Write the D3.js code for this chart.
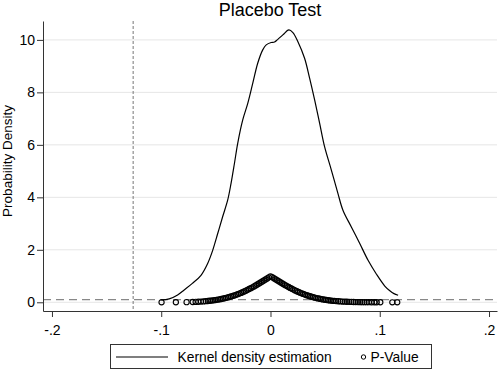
<!DOCTYPE html>
<html>
<head>
<meta charset="utf-8">
<script src="https://cdn.jsdelivr.net/npm/d3@7"></script>
<style>
  body { margin: 0; background: white; }
  text { font-family: "Liberation Sans", Arial, sans-serif; }
</style>
</head>
<body>
<div id="container"></div>
<script>
// kernel density of the placebo estimates
let kdeX = [-0.1003, -0.0927, -0.0850, -0.0790, -0.0715, -0.0636, -0.0575, -0.0529, -0.0483, -0.0438,
  -0.0392, -0.0361, -0.0330, -0.0300, -0.0254, -0.0208, -0.0162, -0.0117, -0.0071, -0.0039,
  0.0006, 0.0037, 0.0067, 0.0113, 0.0168, 0.0205, 0.0250, 0.0312, 0.0358, 0.0404,
  0.0450, 0.0495, 0.0557, 0.0617, 0.0663, 0.0740, 0.0817, 0.0893, 0.0970, 0.1046,
  0.1092, 0.1130, 0.1168];
let kdeY = [0.09, 0.13, 0.28, 0.47, 0.72, 1.03, 1.48, 1.98, 2.62, 3.26,
  3.89, 4.53, 5.29, 6.06, 6.95, 7.58, 8.35, 9.11, 9.62, 9.81,
  9.90, 9.92, 10.02, 10.19, 10.38, 10.28, 9.94, 9.30, 8.54, 7.71,
  6.82, 5.93, 5.04, 4.15, 3.51, 2.87, 2.24, 1.60, 1.07, 0.62,
  0.44, 0.33, 0.27];

// placebo estimates and their p-values
let pvalX = [-0.0997, -0.0866, -0.0768, -0.0712, -0.0685, -0.0660, -0.0636, -0.0613, -0.0592, -0.0573, -0.0556,
  -0.0540, -0.0525, -0.0510, -0.0495, -0.0480, -0.0465, -0.0450, -0.0435, -0.0420, -0.0405,
  -0.0390, -0.0375, -0.0360, -0.0345, -0.0330, -0.0315, -0.0300, -0.0285, -0.0270, -0.0255,
  -0.0240, -0.0225, -0.0210, -0.0195, -0.0180, -0.0165, -0.0150, -0.0135, -0.0120, -0.0105,
  -0.0090, -0.0075, -0.0060, -0.0045, -0.0030, -0.0015, 0.0000,
  0.0015, 0.0030, 0.0045, 0.0060, 0.0075, 0.0090, 0.0105, 0.0120, 0.0135, 0.0150,
  0.0165, 0.0180, 0.0195, 0.0210, 0.0225, 0.0240, 0.0255, 0.0270, 0.0285, 0.0300,
  0.0315, 0.0330, 0.0345, 0.0360, 0.0375, 0.0390, 0.0405, 0.0420, 0.0435, 0.0450,
  0.0465, 0.0480, 0.0495, 0.0510, 0.0525, 0.0540, 0.0555, 0.0570, 0.0585, 0.0600,
  0.0620, 0.0640, 0.0660, 0.0680, 0.0700, 0.0720, 0.0740, 0.0760, 0.0780, 0.0800,
  0.0820, 0.0840, 0.0860, 0.0880, 0.0900, 0.0925, 0.0950, 0.0972, 0.1005, 0.1115, 0.1160];
let pvalP = [0.000, 0.002, 0.006, 0.011, 0.015, 0.020, 0.026, 0.033, 0.041, 0.050, 0.058,
  0.066, 0.074, 0.082, 0.092, 0.102, 0.114, 0.126, 0.140, 0.154, 0.170,
  0.186, 0.204, 0.222, 0.242, 0.262, 0.284, 0.308, 0.332, 0.358, 0.386,
  0.414, 0.444, 0.474, 0.506, 0.538, 0.572, 0.606, 0.642, 0.678, 0.716,
  0.754, 0.792, 0.830, 0.870, 0.910, 0.950, 0.990,
  0.960, 0.920, 0.881, 0.841, 0.803, 0.764, 0.726, 0.689, 0.653, 0.617,
  0.582, 0.549, 0.516, 0.484, 0.453, 0.424, 0.395, 0.368, 0.342, 0.317,
  0.294, 0.271, 0.250, 0.230, 0.211, 0.194, 0.177, 0.162, 0.147, 0.134,
  0.121, 0.110, 0.099, 0.089, 0.080, 0.072, 0.064, 0.057, 0.051, 0.046,
  0.039, 0.033, 0.028, 0.023, 0.020, 0.016, 0.014, 0.011, 0.009, 0.008,
  0.006, 0.005, 0.004, 0.003, 0.003, 0.002, 0.002, 0.001, 0.001, 0.000, 0.000];

let xTicks = [-0.2, -0.1, 0, 0.1, 0.2];
let xTickLabels = ["-.2", "-.1", "0", ".1", ".2"];
let yTicks = [0, 2, 4, 6, 8, 10];
let refX = -0.1257;   // vertical reference line
let refP = 0.1;       // horizontal reference line (p = 0.1)

let w = 498;
let h = 370;
let plotLeft = 43, plotRight = 497, plotTop = 21, plotBottom = 311;

let viz = d3.select("#container")
  .append("svg")
    .attr("width", w)
    .attr("height", h)
    .style("background-color", "white")
;

let xScale = d3.scaleLinear().domain([-0.2082, 0.2073]).range([plotLeft, plotRight]);
let yScale = d3.scaleLinear().domain([-0.332, 10.72]).range([plotBottom, plotTop]);

// grid
viz.append("g").selectAll("line").data(yTicks).enter().append("line")
  .attr("x1", plotLeft).attr("x2", plotRight)
  .attr("y1", d => yScale(d)).attr("y2", d => yScale(d))
  .attr("stroke", "#e6e6e6")
  .attr("stroke-width", 1)
;

// reference lines
viz.append("line")
  .attr("x1", xScale(refX)).attr("x2", xScale(refX))
  .attr("y1", plotTop).attr("y2", plotBottom)
  .attr("stroke", "#777")
  .attr("stroke-width", 1)
  .attr("stroke-dasharray", "3,2")
;
viz.append("line")
  .attr("x1", plotLeft).attr("x2", plotRight)
  .attr("y1", yScale(refP)).attr("y2", yScale(refP))
  .attr("stroke", "#888")
  .attr("stroke-width", 1.2)
  .attr("stroke-dasharray", "8,5")
;

// p-value circles
let pData = pvalX.map((d, i) => ({x: d, p: pvalP[i]}));
viz.append("g").selectAll("circle").data(pData).enter().append("circle")
  .attr("cx", d => xScale(d.x))
  .attr("cy", d => yScale(d.p))
  .attr("r", 2.6)
  .attr("fill", "none")
  .attr("stroke", "black")
  .attr("stroke-width", 1.1)
;

// kernel density line
let kData = kdeX.map((d, i) => ({x: d, y: kdeY[i]}));
let line = d3.line().x(d => xScale(d.x)).y(d => yScale(d.y)).curve(d3.curveCatmullRom);
viz.append("path")
  .datum(kData)
  .attr("d", line)
  .attr("fill", "none")
  .attr("stroke", "black")
  .attr("stroke-width", 1.2)
;

// axes
let xAxisGroup = viz.append("g")
  .attr("transform", "translate(0," + plotBottom + ")")
  .call(d3.axisBottom(xScale).tickValues(xTicks).tickSize(6).tickSizeOuter(0)
    .tickFormat((d, i) => xTickLabels[i]));
let yAxisGroup = viz.append("g")
  .attr("transform", "translate(" + plotLeft + ",0)")
  .call(d3.axisLeft(yScale).tickValues(yTicks).tickSize(6).tickSizeOuter(0));

[xAxisGroup, yAxisGroup].forEach(g => {
  g.select(".domain").attr("stroke", "#333");
  g.selectAll(".tick line").attr("stroke", "#333");
  g.selectAll(".tick text")
    .attr("fill", "black")
    .style("font-family", "'Liberation Sans', Arial, sans-serif")
    .style("font-size", "14px");
});
xAxisGroup.selectAll(".tick text").attr("dy", "1.1em");
yAxisGroup.selectAll(".tick text").attr("x", -8);

// titles
viz.append("text")
  .text("Placebo Test")
  .attr("x", 270)
  .attr("y", 16)
  .attr("text-anchor", "middle")
  .attr("font-size", "18px")
  .attr("fill", "black")
;
viz.append("text")
  .text("Probability Density")
  .attr("transform", "translate(12," + ((plotTop + plotBottom) / 2 - 5) + ") rotate(-90)")
  .attr("text-anchor", "middle")
  .attr("font-size", "13.5px")
  .attr("fill", "black")
;

// legend
let legend = viz.append("g").attr("class", "legend");
legend.append("rect")
  .attr("x", 110.5).attr("y", 344.5)
  .attr("width", 321).attr("height", 24)
  .attr("fill", "white")
  .attr("stroke", "#333")
  .attr("stroke-width", 1)
;
legend.append("line")
  .attr("x1", 116).attr("x2", 168)
  .attr("y1", 357).attr("y2", 357)
  .attr("stroke", "black")
  .attr("stroke-width", 1.2)
;
legend.append("text")
  .text("Kernel density estimation")
  .attr("x", 177.5).attr("y", 361.5)
  .attr("font-size", "13.8px")
  .attr("fill", "black")
;
legend.append("circle")
  .attr("cx", 363.5).attr("cy", 357)
  .attr("r", 2.2)
  .attr("fill", "none")
  .attr("stroke", "black")
  .attr("stroke-width", 1)
;
legend.append("text")
  .text("P-Value")
  .attr("x", 370.5).attr("y", 361.5)
  .attr("font-size", "13.8px")
  .attr("fill", "black")
;
</script>
</body>
</html>
